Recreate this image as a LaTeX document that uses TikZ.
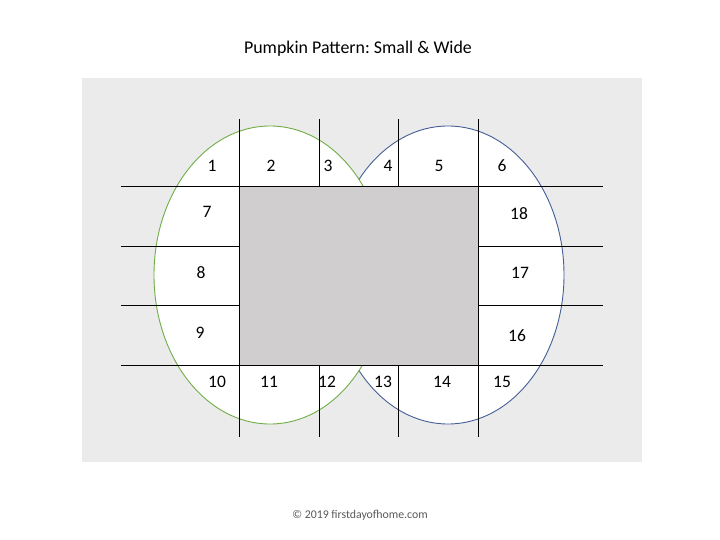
\documentclass[tikz,border=0pt]{standalone}
\usepackage{fontspec}
\setmainfont{Carlito}
\frenchspacing
\definecolor{bggray}{RGB}{235,235,235}
\definecolor{midgray}{RGB}{208,206,206}
\definecolor{pgreen}{RGB}{112,173,71}
\definecolor{pblue}{RGB}{68,94,150}
\definecolor{copygray}{RGB}{89,89,89}
\begin{document}
\begin{tikzpicture}[x=1pt,y=-1pt,
  cut/.style={draw=black,line width=1pt},
  num/.style={font=\fontsize{17.5}{19}\selectfont,inner sep=0pt,anchor=center}]
\useasboundingbox (0,0) rectangle (720,540);
\fill[white] (0,0) rectangle (720,540);
\fill[bggray] (82,78) rectangle (642,462);
% ellipses
\filldraw[fill=white,draw=pblue,line width=0.9pt] (448,275) ellipse [x radius=116,y radius=149];
\filldraw[fill=white,draw=pgreen,line width=0.9pt] (270,275) ellipse [x radius=116,y radius=149];
% central rectangle
\fill[midgray] (240,187) rectangle (478,365);
% horizontal cut lines
\coordinate (hl1) at (121,187); \coordinate (hr1) at (603,187);
\coordinate (hl4) at (121,365); \coordinate (hr4) at (603,365);
\draw[cut] (hl1) -- (hr1);
\draw[cut] (hl4) -- (hr4);
\draw[cut] (121,246) -- (240,246);
\draw[cut] (121,305) -- (240,305);
\draw[cut] (478,246) -- (603,246);
\draw[cut] (478,305) -- (603,305);
% vertical cut lines
\draw[cut] (239.5,119) -- (239.5,437);
\draw[cut] (478,119) -- (478,437);
\draw[cut] (319,119) -- (319,187);
\draw[cut] (319,365) -- (319,437);
\draw[cut] (398,119) -- (398,187);
\draw[cut] (398,365) -- (398,437);
% numbers
\node[num] (n1) at (212,166) {1};
\node[num] (n2) at (271,166) {2};
\node[num] (n3) at (328,166) {3};
\node[num] (n4) at (388,166) {4};
\node[num] (n5) at (439,166) {5};
\node[num] (n6) at (502,166) {6};
\node[num] (n7) at (207,212) {7};
\node[num] (n8) at (201,273) {8};
\node[num] (n9) at (200,333) {9};
\node[num] (n10) at (217,382) {10};
\node[num] (n11) at (269,382) {11};
\node[num] (n12) at (327,382) {12};
\node[num] (n13) at (383,382) {13};
\node[num] (n14) at (442,382) {14};
\node[num] (n15) at (502,382) {15};
\node[num] (n16) at (517,336) {16};
\node[num] (n17) at (520,273) {17};
\node[num] (n18) at (519,214) {18};
% title and footer
\node[font=\fontsize{17.9}{21}\selectfont,inner sep=0pt] (title) at (358,49) {Pumpkin Pattern: Small \& Wide};
\node[font=\fontsize{11.8}{14}\selectfont,text=copygray,inner sep=0pt] (copy) at (360,515) {© 2019 firstdayofhome.com};
\end{tikzpicture}
\end{document}
